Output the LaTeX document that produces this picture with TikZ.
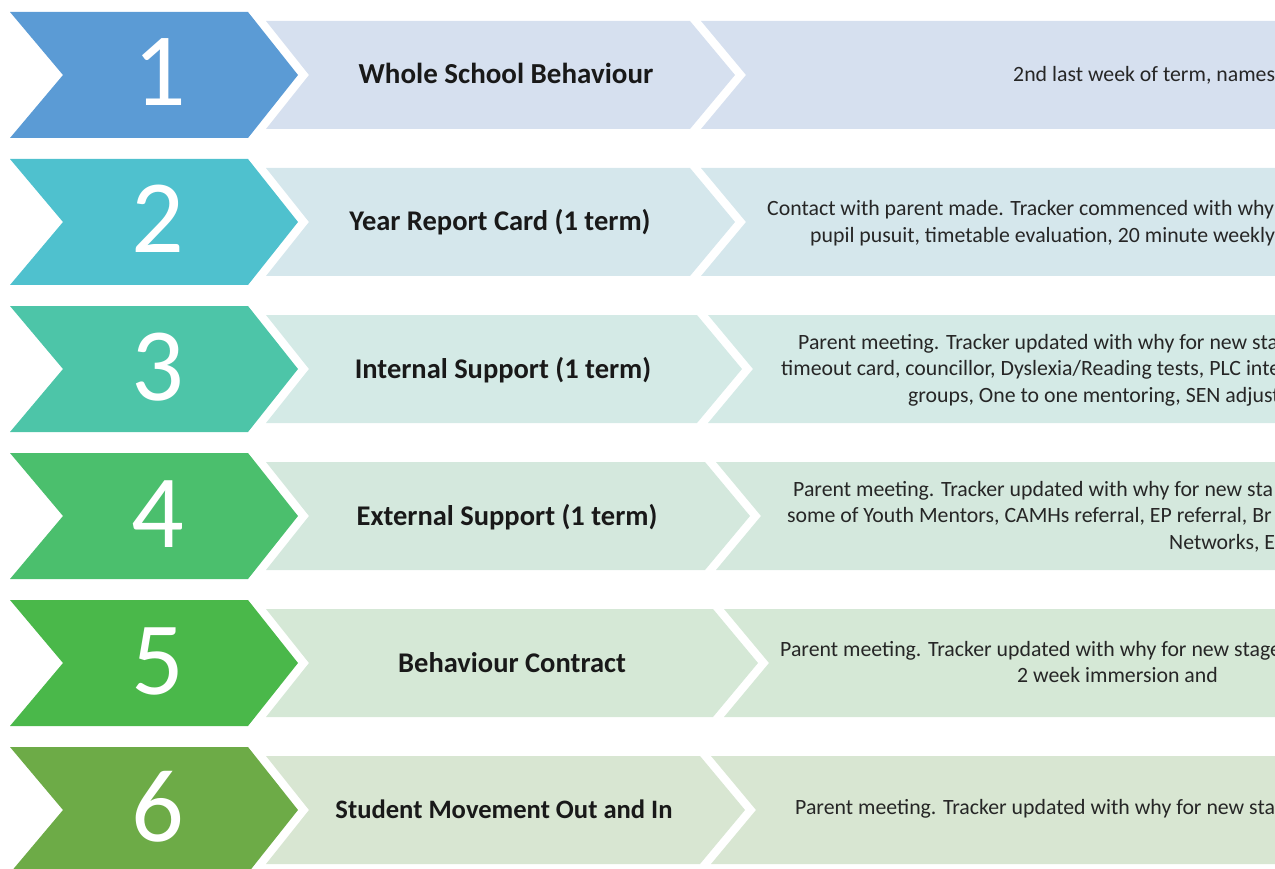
\documentclass[tikz,border=0pt]{standalone}
\usepackage{fontspec}
\setmainfont{Carlito}
\definecolor{blueA}{HTML}{5B9BD5}
\definecolor{blueB}{HTML}{D6E0EF}
\definecolor{tealA}{HTML}{4FC1CE}
\definecolor{tealB}{HTML}{D5E7EC}
\definecolor{aquaA}{HTML}{4DC5A8}
\definecolor{aquaB}{HTML}{D4EAE6}
\definecolor{mintA}{HTML}{4BBF6D}
\definecolor{mintB}{HTML}{D4E8DD}
\definecolor{greenA}{HTML}{4AB84A}
\definecolor{greenB}{HTML}{D5E8D6}
\definecolor{oliveA}{HTML}{6DAB47}
\definecolor{oliveB}{HTML}{D8E6D2}
\begin{document}
\begin{tikzpicture}[x=1pt, y=-1pt,
    stagenum/.style={white, font=\fontsize{104}{104}\selectfont, anchor=base, inner sep=0pt},
    stagetitle/.style={font=\bfseries\fontsize{28.5}{32}\selectfont, anchor=base, inner sep=0pt, text=black!90},
    stageinfo/.style={font=\fontsize{21.8}{26}\selectfont, anchor=base west, inner sep=0pt, text=black!85}]
    \useasboundingbox (0,0) rectangle (1275,869);
    \clip (0,0) rectangle (1275,869);
    \foreach \t/\r/\dark/\light in {12/690/blueA/blueB, 159/690/tealA/tealB, 306/697/aquaA/aquaB,
        453/705/mintA/mintB, 600/713/greenA/greenB, 747/700/oliveA/oliveB} {
        \fill[\dark] (10,\t) -- (248,\t) -- (298,\t+63) -- (248,\t+126) -- (10,\t+126) -- (63,\t+63) -- cycle;
        \fill[\light] (266,\t+9) -- (\r,\t+9) -- (\r+45,\t+63) -- (\r,\t+117) -- (266,\t+117) -- (309,\t+63) -- cycle;
        \fill[\light] (\r+11,\t+9) -- (1290,\t+9) -- (1290,\t+117) -- (\r+11,\t+117) -- (\r+56,\t+63) -- cycle;
    }
    \node[stagenum] (num1) at (160,106) {1};
    \node[stagenum] (num2) at (158,253) {2};
    \node[stagenum] (num3) at (158,400) {3};
    \node[stagenum] (num4) at (158,547) {4};
    \node[stagenum] (num5) at (158,694) {5};
    \node[stagenum] (num6) at (158,841) {6};
    \node[stagetitle, font=\bfseries\fontsize{29}{32}\selectfont] (title1) at (506,84) {Whole School Behaviour};
    \node[stagetitle] (title2) at (500,231) {Year Report Card (1 term)};
    \node[stagetitle] (title3) at (503,378) {Internal Support (1 term)};
    \node[stagetitle] (title4) at (507,525) {External Support (1 term)};
    \node[stagetitle] (title5) at (512,672) {Behaviour Contract};
    \node[stagetitle, font=\bfseries\fontsize{26.6}{32}\selectfont] (title6) at (504,818) {Student Movement Out and In};
    \node[stageinfo] (info1a) at (1013,82) {2nd last week of term, names};
    \node[stageinfo] (info2a) at (767,216) {Contact with parent made. Tracker commenced with why};
    \node[stageinfo] (info2b) at (810,243) {pupil pusuit, timetable evaluation, 20 minute weekly};
    \node[stageinfo] (info3a) at (798,349) {Parent meeting. Tracker updated with why for new sta};
    \node[stageinfo] (info3b) at (781,375) {timeout card, councillor, Dyslexia/Reading tests, PLC inte};
    \node[stageinfo] (info3c) at (908,402) {groups, One to one mentoring, SEN adjust};
    \node[stageinfo] (info4a) at (793,496) {Parent meeting. Tracker updated with why for new sta};
    \node[stageinfo] (info4b) at (787,522) {some of Youth Mentors, CAMHs referral, EP referral, Br};
    \node[stageinfo] (info4c) at (1169,549) {Networks, E};
    \node[stageinfo] (info5a) at (780,656) {Parent meeting. Tracker updated with why for new stage};
    \node[stageinfo] (info5b) at (1017,682) {2 week immersion and};
    \node[stageinfo] (info6a) at (795,814) {Parent meeting. Tracker updated with why for new sta};
\end{tikzpicture}
\end{document}
